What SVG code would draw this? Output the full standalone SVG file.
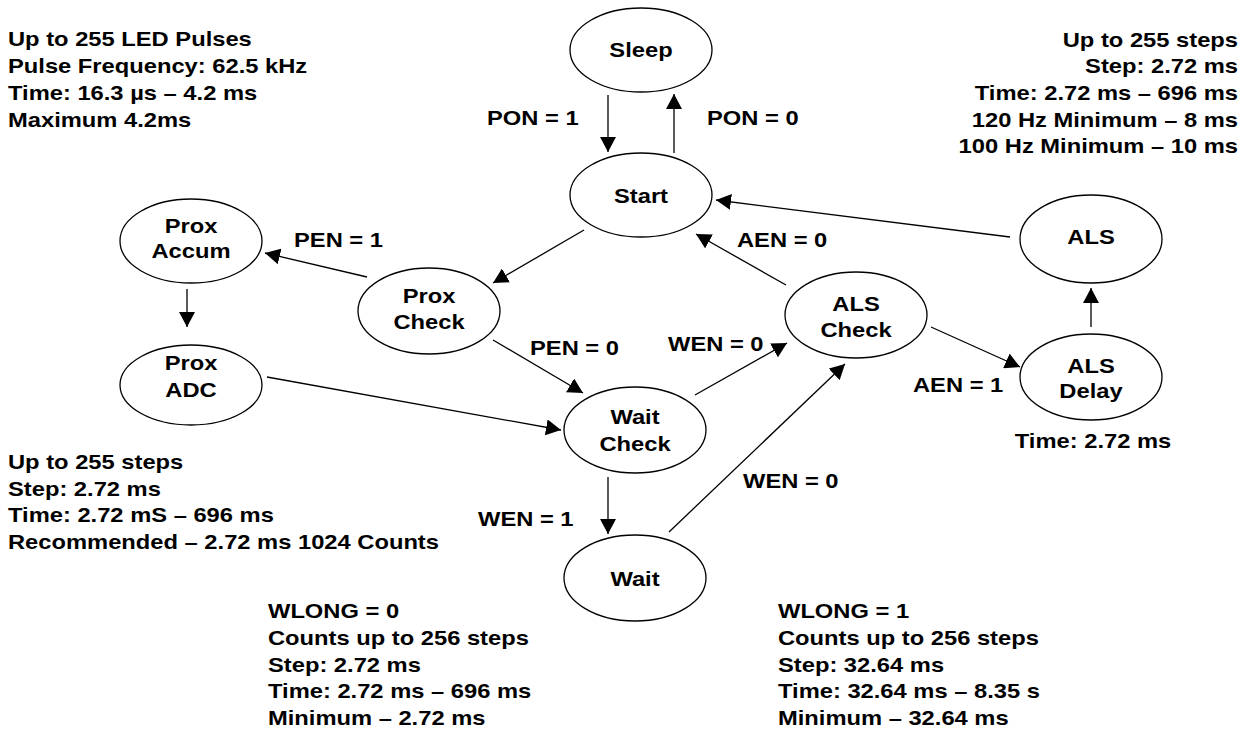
<svg xmlns="http://www.w3.org/2000/svg" width="1254" height="730" viewBox="0 0 1254 730">
<style>
text{font-family:"Liberation Sans",Arial,Helvetica,sans-serif;font-weight:bold;font-size:21px;fill:#000}
.c{text-anchor:middle}
.e{text-anchor:end}
ellipse{fill:#fff;stroke:#000;stroke-width:1.3}
#connectors line{stroke:#000;stroke-width:1.3;marker-end:url(#ah)}
</style>
<defs>
<marker id="ah" markerUnits="userSpaceOnUse" markerWidth="16" markerHeight="16" viewBox="0 0 16 16" refX="15" refY="8" orient="auto">
<path d="M0,0 L15,8 L0,16 z" fill="#000"/>
</marker>
</defs>
<rect width="1254" height="730" fill="#fff"/>

<g id="connectors">
<line x1="608" y1="95" x2="608" y2="152"/>
<line x1="674" y1="153" x2="674" y2="94"/>
<line x1="1010" y1="237" x2="716" y2="200"/>
<line x1="584" y1="230" x2="493" y2="283"/>
<line x1="367" y1="277" x2="265" y2="253"/>
<line x1="187" y1="289" x2="187" y2="327"/>
<line x1="267" y1="377" x2="561" y2="430"/>
<line x1="493" y1="340" x2="583" y2="393"/>
<line x1="786" y1="285" x2="696" y2="234"/>
<line x1="695" y1="395" x2="787" y2="343"/>
<line x1="669" y1="532" x2="845" y2="364"/>
<line x1="931" y1="327" x2="1020" y2="367"/>
<line x1="1091" y1="327" x2="1091" y2="288"/>
<line x1="608" y1="477" x2="608" y2="534"/>
</g>

<g id="connector-labels">
<g transform="translate(487,0) scale(1.13,1)"><text y="125">PON = 1</text></g>
<g transform="translate(707,0) scale(1.13,1)"><text y="125">PON = 0</text></g>
<g transform="translate(294,0) scale(1.13,1)"><text y="247">PEN = 1</text></g>
<g transform="translate(737,0) scale(1.13,1)"><text y="247">AEN = 0</text></g>
<g transform="translate(530,0) scale(1.13,1)"><text y="355">PEN = 0</text></g>
<g transform="translate(668,0) scale(1.13,1)"><text y="351">WEN = 0</text></g>
<g transform="translate(913,0) scale(1.13,1)"><text y="392">AEN = 1</text></g>
<g transform="translate(743,0) scale(1.13,1)"><text y="488">WEN = 0</text></g>
<g transform="translate(478,0) scale(1.13,1)"><text y="526">WEN = 1</text></g>
</g>

<g id="sleep"><ellipse cx="641" cy="50" rx="71" ry="42"/><g transform="translate(641,0) scale(1.13,1)"><text class="c" y="57">Sleep</text></g></g>
<g id="start"><ellipse cx="641" cy="195" rx="71" ry="42"/><g transform="translate(641,0) scale(1.13,1)"><text class="c" y="203">Start</text></g></g>
<g id="prox-accum"><ellipse cx="191" cy="241" rx="71" ry="42"/><g transform="translate(191,0) scale(1.13,1)"><text class="c" y="233">Prox</text><text class="c" y="258">Accum</text></g></g>
<g id="prox-adc"><ellipse cx="191" cy="385" rx="71" ry="40"/><g transform="translate(191,0) scale(1.13,1)"><text class="c" y="370">Prox</text><text class="c" y="397">ADC</text></g></g>
<g id="prox-check"><ellipse cx="429" cy="311" rx="71" ry="43"/><g transform="translate(429,0) scale(1.13,1)"><text class="c" y="303">Prox</text><text class="c" y="329">Check</text></g></g>
<g id="als-check"><ellipse cx="856" cy="315" rx="71" ry="43"/><g transform="translate(856,0) scale(1.13,1)"><text class="c" y="311">ALS</text><text class="c" y="337">Check</text></g></g>
<g id="wait-check"><ellipse cx="635" cy="430" rx="71" ry="43"/><g transform="translate(635,0) scale(1.13,1)"><text class="c" y="424">Wait</text><text class="c" y="451">Check</text></g></g>
<g id="wait"><ellipse cx="635" cy="578" rx="71" ry="43"/><g transform="translate(635,0) scale(1.13,1)"><text class="c" y="586">Wait</text></g></g>
<g id="als"><ellipse cx="1091" cy="239" rx="71" ry="44"/><g transform="translate(1091,0) scale(1.13,1)"><text class="c" y="244">ALS</text></g></g>
<g id="als-delay"><ellipse cx="1091" cy="377" rx="71" ry="43"/><g transform="translate(1091,0) scale(1.13,1)"><text class="c" y="373">ALS</text><text class="c" y="398">Delay</text></g></g>

<g id="notes">
<g transform="translate(8,0) scale(1.13,1)">
<text y="46">Up to 255 LED Pulses</text>
<text y="73">Pulse Frequency: 62.5 kHz</text>
<text y="100">Time: 16.3 µs – 4.2 ms</text>
<text y="127">Maximum 4.2ms</text>
</g>
<g transform="translate(1238,0) scale(1.13,1)">
<text class="e" y="47">Up to 255 steps</text>
<text class="e" y="73">Step: 2.72 ms</text>
<text class="e" y="100">Time: 2.72 ms – 696 ms</text>
<text class="e" y="127">120 Hz Minimum – 8 ms</text>
<text class="e" y="153">100 Hz Minimum – 10 ms</text>
</g>
<g transform="translate(1093,0) scale(1.13,1)"><text class="c" y="448">Time: 2.72 ms</text></g>
<g transform="translate(8,0) scale(1.13,1)">
<text y="469">Up to 255 steps</text>
<text y="496">Step: 2.72 ms</text>
<text y="522">Time: 2.72 mS – 696 ms</text>
<text y="549">Recommended – 2.72 ms 1024 Counts</text>
</g>
<g transform="translate(268,0) scale(1.13,1)">
<text y="618">WLONG = 0</text>
<text y="645">Counts up to 256 steps</text>
<text y="672">Step: 2.72 ms</text>
<text y="698">Time: 2.72 ms – 696 ms</text>
<text y="725">Minimum – 2.72 ms</text>
</g>
<g transform="translate(778,0) scale(1.13,1)">
<text y="618">WLONG = 1</text>
<text y="645">Counts up to 256 steps</text>
<text y="672">Step: 32.64 ms</text>
<text y="698">Time: 32.64 ms – 8.35 s</text>
<text y="725">Minimum – 32.64 ms</text>
</g>
</g>
</svg>
